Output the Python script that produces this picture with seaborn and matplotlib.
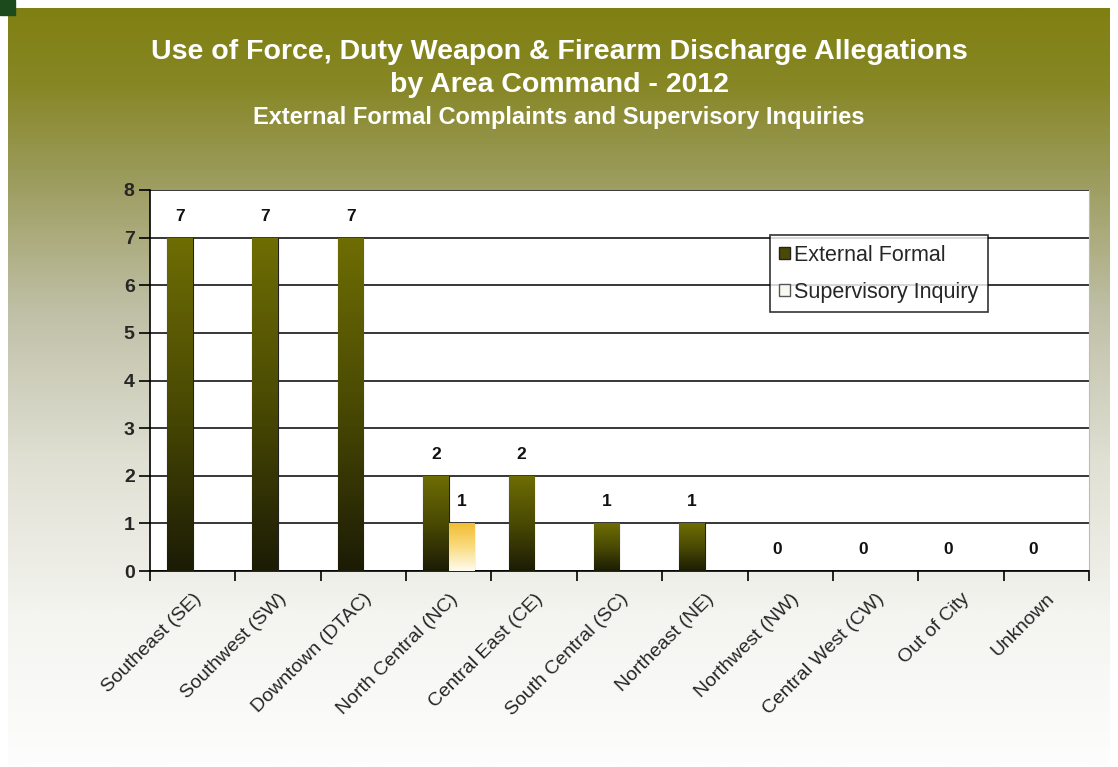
import numpy as np
import pandas as pd
import matplotlib
matplotlib.use('Agg')
import matplotlib.pyplot as plt
import seaborn as sns
from matplotlib.colors import LinearSegmentedColormap
from matplotlib.patches import Patch, Rectangle

# Datos
areas = ['Southeast (SE)', 'Southwest (SW)', 'Downtown (DTAC)', 'North Central (NC)',
         'Central East (CE)', 'South Central (SC)', 'Northeast (NE)', 'Northwest (NW)',
         'Central West (CW)', 'Out of City', 'Unknown']
external_formal = [7, 7, 7, 2, 2, 1, 1, 0, 0, 0, 0]
supervisory_inquiry = [0, 0, 0, 1, 0, 0, 0, 0, 0, 0, 0]
series_names = ['External Formal', 'Supervisory Inquiry']

df = pd.DataFrame({
    'area': areas * 2,
    'count': external_formal + supervisory_inquiry,
    'type': [series_names[0]] * len(areas) + [series_names[1]] * len(areas),
})

sns.set_style('white')
plt.rcParams['font.family'] = ['Liberation Sans', 'DejaVu Sans']

fig = plt.figure(figsize=(11.18, 7.67), dpi=100)

# Fondo degradado
bg = fig.add_axes([0, 0, 1, 1], zorder=-10)
bg_cmap = LinearSegmentedColormap.from_list('bg', [
    (0.0, (128/255, 128/255, 18/255)),
    (0.10, (135/255, 135/255, 38/255)),
    (0.22, (155/255, 155/255, 92/255)),
    (0.40, (192/255, 192/255, 168/255)),
    (0.60, (224/255, 224/255, 212/255)),
    (0.80, (244/255, 244/255, 240/255)),
    (1.0, (253/255, 253/255, 253/255)),
])
grad = np.linspace(0, 1, 400).reshape(-1, 1)
bg.imshow(grad, cmap=bg_cmap, aspect='auto', extent=[8, 1110, 767, 8])
bg.set_xlim(0, 1118)
bg.set_ylim(767, 0)
bg.add_patch(Rectangle((0, 0), 15, 15, color='#1d4a1d'))
bg.axis('off')

ax = fig.add_axes([150/1118, 1 - 571/767, 939/1118, 381/767])
sns.barplot(data=df, x='area', y='count', hue='type', width=0.6,
            palette=['#4a4a05', '#f8e8b0'], ax=ax, legend=False, zorder=3)

# Barras con degradado
ef_cmap = LinearSegmentedColormap.from_list('ef', ['#1c1c06', '#4a4a03', '#6e6d04'])
si_cmap = LinearSegmentedColormap.from_list('si', ['#fffbf0', '#f9dc80', '#f2bd35'])
for cont, cmap in zip(ax.containers, [ef_cmap, si_cmap]):
    for bar in cont:
        h = bar.get_height()
        if h <= 0:
            bar.set_visible(False)
            continue
        x0, w = bar.get_x(), bar.get_width()
        im = ax.imshow(np.linspace(0, 1, 100).reshape(-1, 1), cmap=cmap, aspect='auto',
                       extent=[x0, x0 + w, 0, h], origin='lower', zorder=4)
        im.set_clip_path(bar)
        bar.set_edgecolor('#202020')
        bar.set_linewidth(0.8)

ax.bar_label(ax.containers[0], labels=[str(v) for v in external_formal],
             padding=10, fontsize=12.5, fontweight='bold', color='#111111')
ax.bar_label(ax.containers[1], labels=[str(v) if v else '' for v in supervisory_inquiry],
             padding=10, fontsize=12.5, fontweight='bold', color='#111111')

ax.set_xlim(-0.5, len(areas) - 0.5)
ax.set_ylim(0, 8)
ax.set_yticks(range(0, 9))
ax.yaxis.grid(True, color='black', linewidth=1.1, zorder=1)
ax.set_axisbelow(True)
ax.set_facecolor('white')
ax.set_xlabel('')
ax.set_ylabel('')
ax.set_xticks(np.arange(len(areas)))
ax.set_xticklabels(areas, rotation=45, ha='right', rotation_mode='anchor', fontsize=14)
ax.tick_params(axis='x', length=0, pad=14)
ax.set_xticks(np.arange(-0.5, len(areas)), minor=True)
ax.tick_params(axis='x', which='minor', length=7, width=1.2, color='black', bottom=True)
ax.tick_params(axis='y', length=8, width=1.2, color='black', left=True, labelsize=14, pad=3)
for lbl in ax.get_yticklabels():
    lbl.set_fontweight('bold')
for s in ['left', 'bottom']:
    ax.spines[s].set_color('black')
    ax.spines[s].set_linewidth(1.2)
ax.spines['top'].set_visible(False)
ax.spines['right'].set_color('#bbbbbb')

handles = [Patch(facecolor='#4a4a05', edgecolor='#222222'),
           Patch(facecolor='#f8f8f0', edgecolor='#555555')]
leg = ax.legend(handles, series_names, loc='upper left', bbox_to_anchor=(0.66, 0.882),
                fontsize=15.5, frameon=True, fancybox=False, handlelength=0.5, handleheight=0.5,
                handletextpad=0.2, labelspacing=0.75, borderpad=0.45, borderaxespad=0)
leg.get_frame().set_edgecolor('black')
leg.get_frame().set_linewidth(1.2)
leg.set_zorder(10)

fig.text(0.5, 0.932, 'Use of Force, Duty Weapon & Firearm Discharge Allegations',
         ha='center', va='center', color='white', fontsize=20.5, fontweight='bold')
fig.text(0.5, 0.889, 'by Area Command - 2012',
         ha='center', va='center', color='white', fontsize=20.5, fontweight='bold')
fig.text(0.5, 0.847, 'External Formal Complaints and Supervisory Inquiries',
         ha='center', va='center', color='white', fontsize=17, fontweight='bold')

fig.savefig('out.png', dpi=100)
